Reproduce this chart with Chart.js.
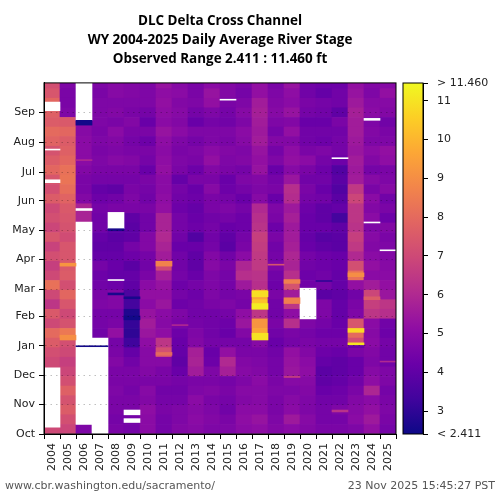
<!DOCTYPE html>
<html>
<head>
<meta charset="utf-8">
<title>DLC Delta Cross Channel</title>
<script src="https://cdn.jsdelivr.net/npm/chart.js@4/dist/chart.umd.js"></script>
<style>
    body { margin: 0; background: #fff; }
    #wrap { position: relative; width: 500px; height: 500px; overflow: hidden; }
    canvas { position: absolute; left: 0; top: 0; }
    .foot { position: absolute; top: 479px; font: 11px "DejaVu Sans", sans-serif; color: #555; white-space: nowrap; }
</style>
</head>
<body>
<div id="wrap">
    <canvas id="heatChart" width="500" height="500"></canvas>
    <canvas id="barChart" width="500" height="500"></canvas>
    <div class="foot" style="left:5px">www.cbr.washington.edu/sacramento/</div>
    <div class="foot" style="right:5px">23 Nov 2025 15:45:27 PST</div>
</div>
<script>
const years = ['2004','2005','2006','2007','2008','2009','2010','2011','2012','2013','2014','2015','2016','2017','2018','2019','2020','2021','2022','2023','2024','2025'];
const monthNames = ['Oct','Nov','Dec','Jan','Feb','Mar','Apr','May','Jun','Jul','Aug','Sep'];
const monthDays = [0,31,61,92,123,151,182,212,243,273,304,335];
const rowDays = [0,10,20,30,40,50,60,70,80,90,100,110,120,130,140,150,160,170,180,190,200,210,220,230,240,250,260,270,280,290,300,310,320,330,340,350,360,366];
const colorbarTicks = [2.411,3,4,5,6,7,8,9,10,11,11.46];
const stageMin = 2.411;
const stageMax = 11.46;

// Ten day rows, from 1 Oct upward, in ft. null = no data
const stage2004 = [7.0,null,null,null,null,null,7.0,7.0,7.2,7.6,8.0,7.0,7.5,6.4,7.0,8.2,7.0,6.7,7.2,6.8,7.4,6.9,7.2,7.0,7.6,7.2,7.4,7.9,7.6,7.3,7.8,8.0,7.6,7.7,7.9,7.4,7.2];
const stage2005 = [6.9,7.2,7.6,7.3,7.7,7.2,6.9,6.7,7.0,7.2,8.4,7.3,7.0,7.4,7.9,7.2,7.6,7.5,7.4,7.4,7.1,7.3,7.4,7.5,7.8,8.1,8.3,8.2,7.9,7.7,7.6,7.9,7.5,4.7,4.6,4.6,4.7];
const stage2006 = [4.7,null,null,null,null,null,null,null,null,null,null,null,null,null,null,null,null,null,null,null,null,null,5.8,5.8,4.8,4.6,4.6,4.8,5.0,5.0,5.0,4.9,5.0,null,null,null,null];
const stage2007 = [null,null,null,null,null,null,null,null,null,null,4.4,4.5,4.5,4.7,4.6,4.4,4.3,4.5,4.1,4.0,4.1,4.4,4.4,4.5,4.3,4.1,4.5,4.6,4.7,4.6,4.7,4.6,4.7,4.7,4.7,4.6,4.7];
const stage2008 = [4.6,4.5,4.6,4.6,4.7,4.6,4.6,4.8,4.6,4.5,5.2,4.6,4.5,4.8,4.8,4.3,4.1,4.2,4.1,4.0,3.9,3.9,null,4.6,4.4,4.0,4.5,4.6,4.9,4.7,4.8,5.0,4.6,4.8,4.7,4.9,4.9];
const stage2009 = [4.5,4.5,4.6,4.6,4.5,4.6,4.6,4.4,4.1,3.3,3.0,3.1,2.7,3.4,3.6,4.0,4.1,3.9,4.3,4.5,4.0,3.9,4.0,4.6,4.7,4.6,4.5,4.6,4.8,4.6,4.5,4.6,4.8,4.6,4.7,4.8,4.8];
const stage2010 = [5.0,5.0,5.1,4.8,4.9,4.6,4.8,4.9,4.9,5.1,5.4,5.6,5.3,5.0,5.2,5.0,4.6,4.4,4.5,4.8,4.8,4.4,4.4,4.6,4.4,4.5,4.6,4.2,4.5,4.6,4.3,4.6,4.2,4.5,4.7,4.7,4.7];
const stage2011 = [4.5,4.5,4.6,4.5,4.4,4.6,4.6,4.9,7.2,6.4,5.1,4.9,5.0,5.4,5.2,5.3,5.7,7.0,5.6,5.8,6.0,5.8,5.8,5.2,5.1,5.0,5.0,5.2,5.1,5.0,5.1,5.3,5.0,5.1,5.2,5.1,5.3];
const stage2012 = [4.8,4.7,4.7,4.5,4.4,4.5,4.2,4.0,4.1,4.2,4.3,4.6,4.7,4.3,4.5,4.3,4.5,4.4,4.4,4.2,4.4,4.5,4.5,4.3,4.4,4.5,4.1,4.6,4.7,4.6,4.7,5.0,4.8,4.9,4.8,5.0,4.9];
const stage2013 = [4.9,5.0,4.9,5.0,4.7,4.6,5.6,5.8,5.7,4.8,4.7,4.5,4.4,4.4,4.3,4.5,4.2,4.0,4.0,4.2,3.7,4.3,4.2,4.1,4.3,4.2,4.6,4.3,4.6,4.7,4.5,4.7,4.2,4.5,4.7,4.6,4.6];
const stage2014 = [4.7,4.8,4.7,4.6,4.8,4.6,4.7,4.3,4.2,4.5,4.4,4.4,4.4,4.6,4.7,4.7,4.7,4.9,4.8,4.5,4.4,4.5,4.4,4.6,4.6,4.9,4.6,4.8,5.2,5.0,4.7,4.7,4.5,4.7,5.2,5.3,5.0];
const stage2015 = [4.7,4.6,4.4,4.5,4.6,4.5,5.7,6.0,5.2,4.5,4.2,4.3,4.5,4.7,4.5,4.5,4.5,4.6,4.4,3.9,4.0,4.2,4.5,4.7,4.5,4.3,4.2,4.6,4.7,4.8,4.6,4.7,4.4,4.5,4.6,4.8,4.8];
const stage2016 = [5.0,5.1,5.0,4.8,4.9,4.7,4.9,4.8,4.6,4.5,4.8,5.4,5.1,4.5,4.6,5.5,6.2,5.9,5.0,4.6,4.5,4.3,4.3,4.5,4.2,4.5,4.7,4.5,4.8,4.7,4.9,5.0,4.7,4.9,4.7,4.5,4.6];
const stage2017 = [5.1,5.3,5.0,4.9,4.9,5.0,4.8,4.7,4.6,4.9,9.6,9.2,6.4,10.3,9.6,6.2,6.3,6.5,6.5,6.6,6.7,6.3,6.2,6.0,4.9,4.7,4.8,5.3,5.2,5.3,5.6,5.5,5.6,5.7,5.6,5.2,5.2];
const stage2018 = [4.8,4.7,4.6,4.6,4.7,4.6,4.5,4.5,4.4,4.2,4.4,4.6,4.4,4.4,4.6,4.3,4.4,4.7,4.5,4.4,4.6,4.3,4.6,4.7,4.2,4.6,4.5,4.2,4.7,4.5,4.8,4.5,4.7,4.9,4.8,4.7,4.6];
const stage2019 = [5.0,5.5,5.0,4.9,4.7,4.9,5.4,5.3,5.2,4.5,4.6,6.2,5.1,6.4,5.6,7.3,6.2,5.8,5.9,5.7,5.6,5.5,5.7,5.5,6.1,6.2,5.4,4.9,5.2,5.1,4.8,5.2,4.8,5.3,5.0,5.1,5.3];
const stage2020 = [4.8,4.9,4.7,4.7,4.8,4.9,5.1,5.0,4.8,4.6,4.5,4.7,null,null,null,4.4,4.3,4.4,4.5,4.2,4.1,4.2,4.2,4.3,4.5,4.6,4.4,4.6,5.0,4.6,4.4,4.4,4.2,4.5,4.6,4.4,4.4];
const stage2021 = [4.6,4.5,4.5,4.4,4.2,4.0,3.9,4.1,4.3,4.5,4.3,4.5,4.7,4.7,3.9,4.5,4.4,4.3,4.3,4.0,3.8,4.2,4.0,4.0,4.4,4.2,4.4,4.3,4.5,4.7,4.3,4.4,4.2,4.4,4.5,4.1,4.3];
const stage2022 = [4.6,4.5,4.7,4.4,4.3,4.1,4.0,4.0,4.2,4.5,4.3,4.2,4.1,4.1,4.0,4.1,4.1,4.2,4.2,3.9,3.9,4.0,3.4,4.1,3.9,3.7,3.9,3.7,4.3,4.5,4.5,4.4,4.6,4.0,4.4,4.4,4.3];
const stage2023 = [4.7,5.0,4.9,4.8,4.6,4.4,4.2,4.2,4.6,7.2,8.0,7.4,4.7,4.6,4.4,5.2,8.2,7.2,6.0,6.5,6.7,6.3,6.4,6.4,6.9,6.5,5.6,5.5,5.6,5.4,5.5,5.6,5.6,5.7,5.5,5.3,5.2];
const stage2024 = [5.2,5.5,5.2,5.0,5.9,5.1,4.9,4.7,4.8,5.0,4.9,5.0,6.4,6.7,6.9,5.6,5.0,5.2,5.0,4.8,4.9,4.7,5.0,4.8,5.0,4.6,4.9,4.5,4.8,5.0,4.7,4.8,4.7,5.0,4.9,4.7,4.8];
const stage2025 = [4.5,4.6,4.7,4.6,4.5,4.7,4.7,4.4,4.4,4.5,4.3,4.4,6.2,6.4,5.4,5.2,5.0,4.9,4.8,4.7,4.6,4.8,4.3,4.6,4.4,4.9,4.7,4.6,5.1,5.2,4.7,4.6,4.4,4.8,4.9,5.2,4.9];
const stageByYear = [stage2004,stage2005,stage2006,stage2007,stage2008,stage2009,stage2010,stage2011,stage2012,stage2013,stage2014,stage2015,stage2016,stage2017,stage2018,stage2019,stage2020,stage2021,stage2022,stage2023,stage2024,stage2025];

// Short spells the ten day rows can't show: year, first day, last day, ft
const spellYears = ['2017','2017','2017','2023','2023','2023','2023','2005','2005','2011','2011','2009','2009','2008','2006','2006','2007','2006','2008','2018','2019','2019','2019','2022','2025','2021','2024','2012'];
const spellFrom = [98,130,143,93,106,90,164,98,175,82,175,141,119,145,91,322,91,285,212,176,136,157,59,23,75,159,140,113];
const spellTo = [105,136,149,95,110,93,168,103,178,85,180,143,123,147,92,327,92,286,214,177,142,161,60,25,76,160,143,114];
const spellStage = [11.0,11.2,10.9,11.0,10.8,4.2,9.0,9.0,9.2,8.0,8.7,2.6,2.5,2.6,2.5,2.5,2.5,6.0,2.6,7.4,8.6,8.6,6.8,6.3,6.0,3.0,7.6,6.0];

// Gaps in the record: year, first day, last day
const gapYears = ['2004','2004','2004','2004','2006','2006','2006','2007','2008','2008','2009','2009','2015','2020','2022','2024','2024','2025'];
const gapFrom = [7,262,296,337,10,233,327,0,160,214,12,20,348,120,287,220,327,191];
const gapTo = [69,265,297,346,221,235,366,100,161,231,16,25,349,152,288,221,329,192];

const plasma = ['#0d0887','#41049d','#6a00a8','#8f0da4','#b12a90','#cc4778','#e16462','#f2844b','#fca636','#fcce25','#f0f921'];

function stageColor(value) {
    const t = Math.min(Math.max((value - stageMin) / (stageMax - stageMin), 0), 1) * (plasma.length - 1);
    const i = Math.min(Math.floor(t), plasma.length - 2);
    const mix = (a, b) => Math.round(a + (b - a) * (t - i));
    const rgb = hex => [1, 3, 5].map(p => parseInt(hex.substr(p, 2), 16));
    const from = rgb(plasma[i]);
    const to = rgb(plasma[i + 1]);
    return `rgb(${mix(from[0], to[0])},${mix(from[1], to[1])},${mix(from[2], to[2])})`;
}

function buildDatasets() {
    const sets = [];
    // first dataset ends up on top, so spells go first, then gaps, then the rows
    spellYears.forEach((year, s) => {
        sets.push({
            data: years.map(y => y === year ? [spellFrom[s], spellTo[s]] : null),
            backgroundColor: stageColor(spellStage[s])
        });
    });
    gapYears.forEach((year, g) => {
        sets.push({
            data: years.map(y => y === year ? [gapFrom[g], gapTo[g]] : null),
            backgroundColor: '#fff'
        });
    });
    rowDays.slice(0, -1).forEach((day, r) => {
        sets.push({
            data: years.map((y, i) => stageByYear[i][r] === null ? null : [day, rowDays[r + 1]]),
            backgroundColor: years.map((y, i) => stageColor(stageByYear[i][r] || stageMin))
        });
    });
    return sets;
}

// Black frame round the plot
const framePlugin = {
    id: 'frame',
    afterDraw(chart) {
        const { left, top, width, height } = chart.chartArea;
        chart.ctx.save();
        chart.ctx.strokeStyle = '#000';
        chart.ctx.lineWidth = 1;
        chart.ctx.strokeRect(left, top, width, height);
        chart.ctx.restore();
    }
};

const tickFont = { family: '"DejaVu Sans", sans-serif', size: 11 };

new Chart(document.getElementById('heatChart'), {
    type: 'bar',
    data: { labels: years, datasets: buildDatasets() },
    options: {
        responsive: false,
        animation: false,
        events: [],
        layout: { padding: { right: 104 } },
        datasets: { bar: { grouped: false, barPercentage: 1, categoryPercentage: 1, borderWidth: 0 } },
        plugins: {
            legend: { display: false },
            tooltip: { enabled: false },
            title: {
                display: true,
                fullSize: false,
                text: ['DLC Delta Cross Channel', 'WY 2004-2025 Daily Average River Stage', 'Observed Range 2.411 : 11.460 ft'],
                color: '#000',
                font: { family: '"Open Sans", sans-serif', size: 13.45, weight: 'bold', lineHeight: 1.41 },
                padding: { top: 12, bottom: 14 }
            }
        },
        scales: {
            x: {
                grid: { drawOnChartArea: false, tickColor: '#000', tickLength: 5 },
                border: { color: '#000' },
                ticks: { color: '#222', font: tickFont, minRotation: 90, maxRotation: 90, autoSkip: false, padding: 4 },
                afterFit: scale => { scale.height = 66; }
            },
            y: {
                min: 0,
                max: 366,
                grid: { z: 1, color: 'rgba(0,0,0,0.25)', tickColor: '#000', tickLength: 5 },
                // same z as the grid, or the axis line lands at x=0
                border: { color: '#000', dash: [1.5, 4], z: 1 },
                ticks: {
                    color: '#222',
                    font: tickFont,
                    padding: 4,
                    callback: value => monthNames[monthDays.indexOf(value)]
                },
                afterBuildTicks: scale => { scale.ticks = monthDays.map(value => ({ value })); },
                afterFit: scale => { scale.width = 44; }
            }
        }
    },
    plugins: [framePlugin]
});

new Chart(document.getElementById('barChart'), {
    type: 'bar',
    data: {
        labels: ['stage'],
        datasets: [{
            data: [[stageMin, stageMax]],
            barPercentage: 1,
            categoryPercentage: 1,
            borderWidth: 0,
            backgroundColor: ctx => {
                const area = ctx.chart.chartArea;
                if (!area) return plasma[0];
                const fill = ctx.chart.ctx.createLinearGradient(0, area.bottom, 0, area.top);
                plasma.forEach((color, i) => fill.addColorStop(i / (plasma.length - 1), color));
                return fill;
            }
        }]
    },
    options: {
        responsive: false,
        animation: false,
        events: [],
        layout: { padding: { left: 403, top: 83, bottom: 66 } },
        plugins: { legend: { display: false }, tooltip: { enabled: false } },
        scales: {
            x: { display: false },
            y: {
                position: 'right',
                min: stageMin,
                max: stageMax,
                grid: { drawOnChartArea: false, tickColor: '#000', tickLength: 5 },
                border: { color: '#000' },
                ticks: {
                    color: '#222',
                    font: tickFont,
                    padding: 9,
                    callback: value => value === stageMin ? '< 2.411' : value === stageMax ? '> 11.460' : value
                },
                afterBuildTicks: scale => { scale.ticks = colorbarTicks.map(value => ({ value })); },
                afterFit: scale => { scale.width = 77; }
            }
        }
    },
    plugins: [framePlugin]
});
</script>
</body>
</html>
